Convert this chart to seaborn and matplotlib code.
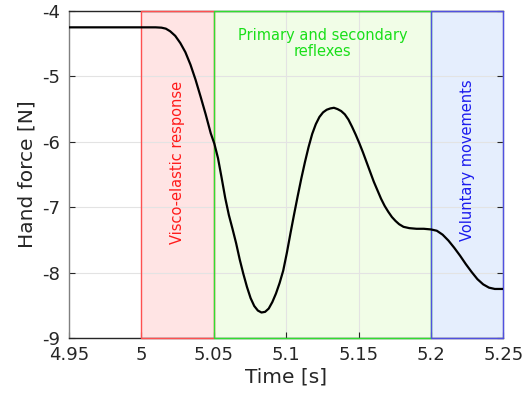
import matplotlib
matplotlib.use('Agg')
import matplotlib.pyplot as plt
import pandas as pd
import seaborn as sns

# hand force trace
time_s = [4.95, 5.0, 5.01, 5.014, 5.017, 5.020, 5.0235, 5.027, 5.0305, 5.034,
          5.0375, 5.041, 5.0445, 5.048, 5.0505, 5.053, 5.0555, 5.058, 5.0605,
          5.063, 5.0655, 5.068, 5.0705, 5.073, 5.0755, 5.078, 5.0805, 5.083,
          5.0855, 5.088, 5.0905, 5.093, 5.0955, 5.098, 5.1005, 5.103, 5.1055,
          5.108, 5.1105, 5.113, 5.1155, 5.118, 5.1205, 5.123, 5.1255, 5.128,
          5.1305, 5.133, 5.1355, 5.138, 5.1405, 5.143, 5.1455, 5.148, 5.1505,
          5.153, 5.1555, 5.158, 5.1605, 5.163, 5.1655, 5.168, 5.1705, 5.173,
          5.1755, 5.178, 5.181, 5.185, 5.19, 5.195, 5.2, 5.204, 5.208, 5.212,
          5.216, 5.22, 5.224, 5.228, 5.232, 5.236, 5.24, 5.244, 5.25]
force_n = [-4.25, -4.25, -4.25, -4.255, -4.27, -4.31, -4.38, -4.49, -4.63, -4.82,
           -5.05, -5.31, -5.58, -5.87, -6.03, -6.25, -6.55, -6.86, -7.12,
           -7.33, -7.55, -7.80, -8.02, -8.22, -8.39, -8.51, -8.58, -8.61,
           -8.60, -8.55, -8.45, -8.32, -8.16, -7.97, -7.70, -7.40, -7.11,
           -6.83, -6.56, -6.31, -6.08, -5.88, -5.73, -5.62, -5.55, -5.51,
           -5.49, -5.48, -5.50, -5.53, -5.58, -5.66, -5.77, -5.89, -6.02,
           -6.16, -6.31, -6.46, -6.61, -6.74, -6.87, -6.98, -7.07, -7.15,
           -7.21, -7.26, -7.30, -7.32, -7.33, -7.33, -7.34, -7.36, -7.42, -7.51,
           -7.62, -7.74, -7.87, -7.99, -8.10, -8.18, -8.23, -8.25, -8.25]

phase_names = ['Visco-elastic response', 'Primary and secondary\nreflexes', 'Voluntary movements']
phase_start = [5.0, 5.05, 5.2]
phase_end = [5.05, 5.2, 5.25]
phase_edge = ['#ff5050', '#30dd30', '#5050e0']
phase_fill = ['#ffe0e0', '#effde3', '#e1ebfd']
phase_text = ['#ff1a1a', '#1adf1a', '#1a1aee']

x_ticks = [4.95, 5.0, 5.05, 5.1, 5.15, 5.2, 5.25]
x_labels = ['4.95', '5', '5.05', '5.1', '5.15', '5.2', '5.25']
y_ticks = [-9, -8, -7, -6, -5, -4]
y_labels = ['-9', '-8', '-7', '-6', '-5', '-4']

sns.set_style('white')
plt.rcParams['font.family'] = ['DejaVu Sans']

fig = plt.figure(figsize=(5.23, 4.07), dpi=100)
ax = fig.add_axes([0.1314, 0.1695, 0.8313, 0.8035])

df = pd.DataFrame({'Time [s]': time_s, 'Hand force [N]': force_n})

for i in range(3):
    ax.axvspan(phase_start[i], phase_end[i], facecolor=phase_fill[i], alpha=0.85,
               edgecolor='none', zorder=0.5)
    ax.axvspan(phase_start[i], phase_end[i], facecolor='none',
               edgecolor=phase_edge[i], linewidth=1.0, zorder=3, clip_on=False)

sns.lineplot(data=df, x='Time [s]', y='Hand force [N]', color='black',
             linewidth=1.6, ax=ax, zorder=4)

ax.text(5.0248, -6.32, phase_names[0], rotation=90, color=phase_text[0],
        ha='center', va='center', fontsize=10.5, zorder=5)
ax.text(5.125, -4.5, phase_names[1], color=phase_text[1],
        ha='center', va='center', fontsize=10.5, linespacing=1.05, zorder=5)
ax.text(5.225, -6.28, phase_names[2], rotation=90, color=phase_text[2],
        ha='center', va='center', fontsize=10.5, zorder=5)

ax.set_xlim(4.95, 5.25)
ax.set_ylim(-9, -4)
ax.set_xticks(x_ticks)
ax.set_xticklabels(x_labels)
ax.set_yticks(y_ticks)
ax.set_yticklabels(y_labels)
ax.grid(True, color='#e3e3e3', linewidth=0.8, zorder=0)
ax.set_axisbelow(True)
ax.tick_params(direction='in', length=4, labelsize=13, colors='#262626',
               top=False, right=True, bottom=True, left=True, pad=6)
ax.set_xlabel('Time [s]', fontsize=14.5, color='#262626', labelpad=2)
ax.set_ylabel('Hand force [N]', fontsize=14.5, color='#262626', labelpad=4)

for side in ['top', 'bottom']:
    ax.spines[side].set_color('#262626')
ax.spines['left'].set_color('#808080')
ax.spines['right'].set_color('#b0b0b0')
for side in ax.spines:
    ax.spines[side].set_linewidth(1.0)

fig.savefig('out.png', dpi=100)
